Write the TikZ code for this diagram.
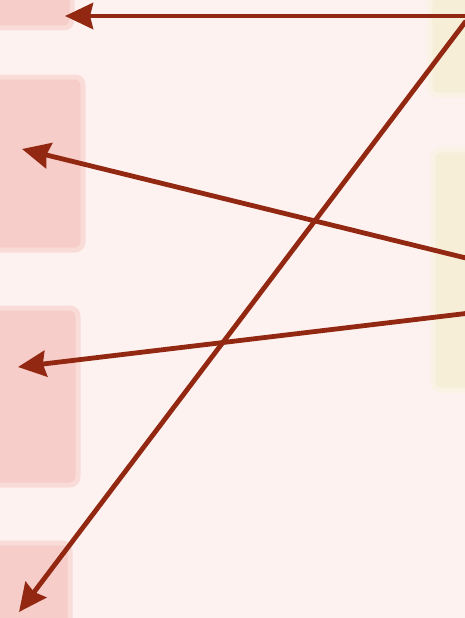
\documentclass[tikz,border=0pt]{standalone}
\usetikzlibrary{arrows.meta}
\definecolor{bgpink}{HTML}{FDF2F0}
\definecolor{boxpink}{HTML}{F6CDC9}
\definecolor{boxedge}{HTML}{F9DCD8}
\definecolor{boxyel}{HTML}{F7EED8}
\definecolor{yeledge}{HTML}{FAF2E4}
\definecolor{arrred}{HTML}{922812}
\tikzset{
  lbox/.style={fill=boxpink, draw=boxedge, line width=5pt, rounded corners=8pt, inner sep=0pt},
  rbox/.style={fill=boxyel, draw=yeledge, line width=5pt, rounded corners=8pt, inner sep=0pt},
  link/.style={draw=arrred, line width=4.8pt, -{Stealth[length=28pt,width=26pt,inset=3pt]}},
}
\begin{document}
\begin{tikzpicture}[x=1pt,y=-1pt]
\useasboundingbox (0,0) rectangle (465,618);
\clip (0,0) rectangle (465,618);
% 背景
\fill[bgpink] (0,0) rectangle (465,618);
% 左侧方框
\node[lbox, minimum width=112pt, minimum height=68pt]  (l1) at (16,-6) {};
\node[lbox, minimum width=123pt, minimum height=173pt] (l2) at (21.5,163.5) {};
\node[lbox, minimum width=118pt, minimum height=177pt] (l3) at (19,396.5) {};
\node[lbox, minimum width=110pt, minimum height=137pt] (l4) at (15,611.5) {};
% 右侧方框
\node[rbox, minimum width=90pt, minimum height=135pt]  (r1) at (475,27.5) {};
\node[rbox, minimum width=87pt, minimum height=240pt]  (r2) at (476.5,270) {};
% 箭头端点
\coordinate (s1) at (470,16);  \coordinate (t1) at (65,16);
\coordinate (s2) at (470,259); \coordinate (t2) at (22,149);
\coordinate (s3) at (470,313); \coordinate (t3) at (18,367);
\coordinate (s4) at (466,21);  \coordinate (t4) at (19,612);
% 箭头
\draw[link] (s1) -- (t1);
\draw[link] (s2) -- (t2);
\draw[link] (s3) -- (t3);
\draw[link] (s4) -- (t4);
\end{tikzpicture}
\end{document}
